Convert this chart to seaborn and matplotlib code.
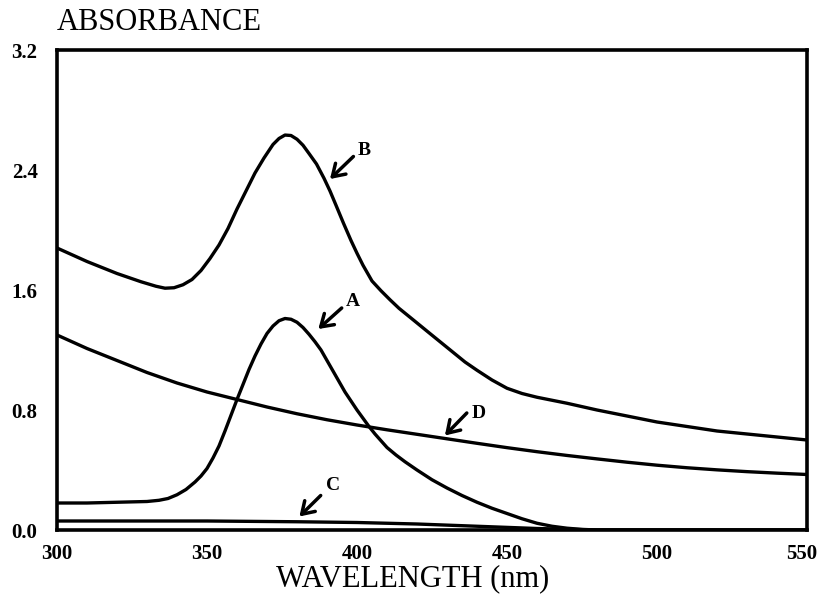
import numpy as np
import pandas as pd
import matplotlib
matplotlib.use("Agg")
import matplotlib.pyplot as plt
import matplotlib.transforms as mtransforms
import seaborn as sns

# ---- data ----
wl_A = [300, 310, 320, 330, 334, 337, 340, 343, 346, 348, 350, 352, 354, 356, 358, 360, 362, 364,
        366, 368, 370, 372, 374, 376, 378, 380, 382, 384, 386, 388, 390, 392, 394, 396, 398, 400,
        402, 404, 406, 408, 410, 413, 416, 420, 425, 430, 435, 440, 445, 450, 455, 460, 465, 470,
        475, 480, 500, 550]
abs_A = [0.18, 0.18, 0.185, 0.19, 0.198, 0.21, 0.235, 0.27, 0.32, 0.36, 0.41, 0.48, 0.56, 0.66,
         0.765, 0.87, 0.97, 1.07, 1.16, 1.24, 1.31, 1.36, 1.395, 1.41, 1.405, 1.385, 1.35, 1.305,
         1.255, 1.20, 1.13, 1.06, 0.99, 0.92, 0.86, 0.80, 0.745, 0.69, 0.64, 0.595, 0.55, 0.50,
         0.455, 0.40, 0.335, 0.28, 0.23, 0.185, 0.145, 0.11, 0.075, 0.045, 0.025, 0.012, 0.004,
         0.0, 0.0, 0.0]

wl_B = [300, 310, 320, 328, 333, 336, 339, 342, 345, 348, 351, 354, 357, 360, 363, 366, 369, 372,
        374, 376, 378, 380, 382, 384, 386.5, 389, 391, 393, 395.5, 398, 400, 402, 405, 408, 411,
        414, 418, 421, 424, 428, 432, 436, 440, 445, 450, 455, 460, 465, 470, 480, 490, 500, 510,
        520, 530, 540, 550]
abs_B = [1.88, 1.79, 1.71, 1.655, 1.625, 1.612, 1.615, 1.635, 1.67, 1.73, 1.81, 1.90, 2.01, 2.14,
         2.26, 2.38, 2.48, 2.57, 2.61, 2.633, 2.63, 2.605, 2.565, 2.51, 2.44, 2.345, 2.26, 2.165,
         2.045, 1.93, 1.845, 1.765, 1.66, 1.595, 1.535, 1.478, 1.413, 1.364, 1.315, 1.25, 1.185,
         1.12, 1.065, 1.0, 0.945, 0.91, 0.885, 0.865, 0.845, 0.80, 0.76, 0.72, 0.69, 0.66, 0.64,
         0.62, 0.60]

wl_C = [300, 350, 380, 400, 420, 440, 460, 480, 550]
abs_C = [0.06, 0.06, 0.055, 0.05, 0.04, 0.025, 0.01, 0.0, 0.0]

wl_D = [300, 310, 320, 330, 340, 350, 360, 370, 380, 390, 400, 410, 420, 430, 440, 450, 460, 470,
        480, 490, 500, 510, 520, 530, 540, 550]
abs_D = [1.30, 1.21, 1.13, 1.05, 0.98, 0.92, 0.87, 0.82, 0.775, 0.735, 0.70, 0.668, 0.638, 0.608,
         0.578, 0.549, 0.522, 0.497, 0.474, 0.452, 0.432, 0.415, 0.401, 0.389, 0.379, 0.37]

curve_labels = ["A", "B", "C", "D"]
# arrow tip (on curve), arrow tail, label position
arrow_tip = [(387.1, 1.34), (391.0, 2.34), (380.8, 0.09), (429.3, 0.63)]
arrow_tail = [(394.9, 1.48), (398.8, 2.49), (387.9, 0.23), (436.6, 0.78)]
label_pos = [(398.5, 1.52), (402.5, 2.53), (392.0, 0.30), (440.5, 0.78)]

x_ticks = [300, 350, 400, 450, 500, 550]
y_ticks = [0.0, 0.4, 0.8, 1.2, 1.6, 2.0, 2.4, 2.8, 3.2]
y_tick_labels = ["0.0", "", "0.8", "", "1.6", "", "2.4", "", "3.2"]

# ---- build long table ----
frames = []
for name, wl, ab in [("A", wl_A, abs_A), ("B", wl_B, abs_B), ("C", wl_C, abs_C), ("D", wl_D, abs_D)]:
    frames.append(pd.DataFrame({"wavelength": wl, "absorbance": ab, "curve": name}))
df = pd.concat(frames, ignore_index=True)

sns.set_theme(style="white")
plt.rcParams["font.family"] = ["Liberation Serif", "DejaVu Serif"]
plt.rcParams["text.color"] = "black"
plt.rcParams["axes.labelcolor"] = "black"
plt.rcParams["xtick.color"] = "black"
plt.rcParams["ytick.color"] = "black"

fig = plt.figure(figsize=(8.2, 6.0), dpi=100)
ax = fig.add_axes([57 / 820, 70 / 600, 750 / 820, 480 / 600])

sns.lineplot(data=df, x="wavelength", y="absorbance", hue="curve", units="curve", estimator=None,
             palette={"A": "black", "B": "black", "C": "black", "D": "black"},
             linewidth=2.4, legend=False, ax=ax)

ax.set_xlim(300, 550)
ax.set_ylim(0, 3.2)
ax.set_xticks(x_ticks)
ax.set_xticklabels([str(t) for t in x_ticks], fontsize=15, fontweight="bold")
ax.set_yticks(y_ticks)
ax.set_yticklabels(y_tick_labels, fontsize=15, fontweight="bold")
ax.tick_params(axis="both", direction="in", length=10, width=2.2, colors="black")
ax.tick_params(axis="y", pad=14)
ax.tick_params(axis="x", pad=10)
for s in ax.spines.values():
    s.set_visible(True)
    s.set_linewidth(2.6)
    s.set_color("black")

# nudge the last x tick label so it stays inside the figure, as in the reference
last = ax.xaxis.get_majorticklabels()[-1]
last.set_transform(last.get_transform() + mtransforms.ScaledTranslation(-5 / 100, 0, fig.dpi_scale_trans))

ax.set_xlabel("WAVELENGTH (nm)", fontsize=22, va="center", color="black")
ax.xaxis.set_label_coords((413 - 57) / 750, (530 - 579) / 480)
ax.set_ylabel("")
ax.text(0.0, (530 - 23) / 480, "ABSORBANCE", transform=ax.transAxes, fontsize=22,
        ha="left", va="center", color="black")

for lab, tip, tail, pos in zip(curve_labels, arrow_tip, arrow_tail, label_pos):
    ax.annotate("", xy=tip, xytext=tail,
                arrowprops=dict(arrowstyle="->,head_length=0.7,head_width=0.45", lw=2.5,
                                color="black", shrinkA=0, shrinkB=0))
    ax.text(pos[0], pos[1], lab, fontsize=14, fontweight="bold", ha="center", va="center",
            color="black")

fig.savefig("out.png", dpi=100)
